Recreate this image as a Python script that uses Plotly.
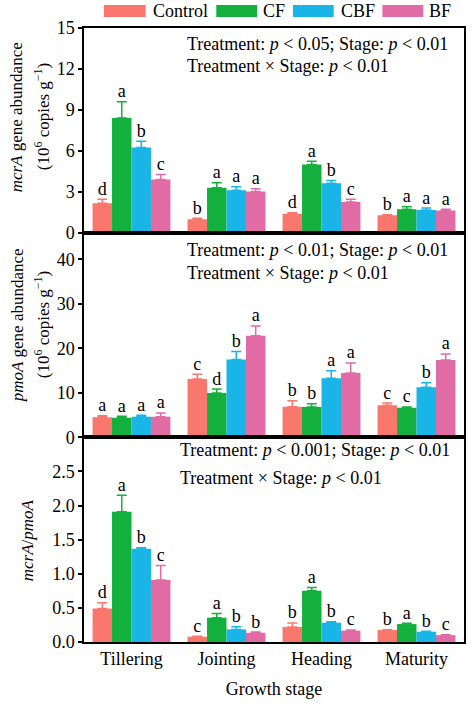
import plotly.graph_objects as go
from plotly.subplots import make_subplots

stages = ["Tillering", "Jointing", "Heading", "Maturity"]
treatments = ["Control", "CF", "CBF", "BF"]
colors = ["#FA776E", "#14B03E", "#18B5E6", "#E06BA5"]

# mcrA gene abundance (10^6 copies g-1), one row per treatment
mcra_mean = [[2.15, 0.98, 1.39, 1.27],
             [8.41, 3.29, 5.00, 1.71],
             [6.24, 3.10, 3.63, 1.66],
             [3.90, 3.02, 2.24, 1.63]]
mcra_err = [[0.30, 0.07, 0.07, 0.05],
            [1.18, 0.37, 0.24, 0.19],
            [0.46, 0.27, 0.20, 0.14],
            [0.37, 0.20, 0.20, 0.08]]
mcra_letters = [["d", "b", "d", "b"],
                ["a", "a", "a", "a"],
                ["b", "a", "b", "a"],
                ["c", "a", "c", "a"]]

# pmoA gene abundance (10^6 copies g-1)
pmoa_mean = [[4.49, 13.10, 6.89, 7.19],
             [4.42, 9.96, 6.82, 6.67],
             [4.64, 17.50, 13.26, 11.24],
             [4.64, 22.85, 14.46, 17.38]]
pmoa_err = [[0.38, 1.10, 1.35, 0.50],
            [0.30, 0.90, 0.75, 0.15],
            [0.30, 1.80, 1.70, 1.05],
            [0.83, 2.20, 2.25, 1.35]]
pmoa_letters = [["a", "c", "b", "c"],
                ["a", "d", "b", "c"],
                ["a", "b", "a", "b"],
                ["a", "a", "a", "a"]]

# mcrA/pmoA ratio
ratio_mean = [[0.49, 0.078, 0.22, 0.175],
              [1.91, 0.356, 0.75, 0.263],
              [1.365, 0.185, 0.283, 0.151],
              [0.91, 0.136, 0.166, 0.100]]
ratio_err = [[0.085, 0.005, 0.06, 0.005],
             [0.24, 0.06, 0.05, 0.01],
             [0.015, 0.04, 0.015, 0.005],
             [0.21, 0.01, 0.01, 0.005]]
ratio_letters = [["d", "c", "b", "b"],
                 ["a", "a", "a", "a"],
                 ["b", "b", "b", "b"],
                 ["c", "b", "c", "c"]]

panels = [
    (mcra_mean, mcra_err, mcra_letters, [0, 15], [0, 3, 6, 9, 12, 15], None),
    (pmoa_mean, pmoa_err, pmoa_letters, [0, 46], [0, 10, 20, 30, 40], None),
    (ratio_mean, ratio_err, ratio_letters, [0, 3], [0, 0.5, 1.0, 1.5, 2.0, 2.5], ".1f"),
]
stats_text = [
    ("Treatment: <i>p</i> < 0.05; Stage: <i>p</i> < 0.01", "Treatment × Stage: <i>p</i> < 0.01"),
    ("Treatment: <i>p</i> < 0.01; Stage: <i>p</i> < 0.01", "Treatment × Stage: <i>p</i> < 0.01"),
    ("Treatment: <i>p</i> < 0.001; Stage: <i>p</i> < 0.01", "Treatment × Stage: <i>p</i> < 0.01"),
]

FONT = "Liberation Serif"
BARGAP = 0.18
W, H = 474, 706
ML, MR, MT, MB = 84, 8, 28, 64
bar_w = (1 - BARGAP) / len(treatments)
x_idx = list(range(len(stages)))


def px_x(p):
    return (p - ML) / (W - ML - MR)


def px_y(p):
    return (H - MB - p) / (H - MT - MB)


fig = make_subplots(rows=3, cols=1, shared_xaxes=True, vertical_spacing=0)

for r, (mean, err, letters, yr, tv, tf) in enumerate(panels, start=1):
    for j, name in enumerate(treatments):
        fig.add_trace(go.Bar(
            x=x_idx, y=mean[j], name=name,
            marker=dict(color=colors[j], line=dict(width=0)),
            error_y=dict(type="data", symmetric=False, array=err[j],
                         arrayminus=[0] * len(stages), color=colors[j],
                         thickness=1.5, width=5),
            showlegend=False,
        ), row=r, col=1)
        # significance letters above error bars
        fig.add_trace(go.Scatter(
            x=[i + (j - 1.5) * bar_w for i in x_idx],
            y=[m + e for m, e in zip(mean[j], err[j])],
            mode="text", text=letters[j], textposition="top center",
            textfont=dict(family=FONT, size=18, color="black"),
            showlegend=False, hoverinfo="skip",
        ), row=r, col=1)
    fig.update_yaxes(range=yr, tickvals=tv, tickformat=tf, row=r, col=1)

fig.update_layout(barmode="group", bargap=BARGAP)

fig.update_xaxes(range=[-0.5, 3.5], tickvals=x_idx, ticktext=stages,
                 showline=True, linecolor="black", linewidth=1.5, mirror=True,
                 ticks="", showgrid=False, zeroline=False,
                 tickfont=dict(family=FONT, size=18, color="black"))
fig.update_xaxes(title=dict(text="Growth stage", font=dict(family=FONT, size=18, color="black"),
                            standoff=14), row=3, col=1)
fig.update_yaxes(showline=True, linecolor="black", linewidth=1.5, mirror=True,
                 ticks="outside", ticklen=4, tickwidth=1.5, tickcolor="black",
                 showgrid=False, zeroline=False,
                 tickfont=dict(family=FONT, size=18, color="black"))

# stats text in each panel
stat_pos = [(186, 44, 66), (186, 250, 273), (178, 450, 478)]
for (l1, l2), (xl, y1, y2) in zip(stats_text, stat_pos):
    for txt, yy in ((l1, y1), (l2, y2)):
        fig.add_annotation(text=txt, xref="paper", yref="paper",
                           x=px_x(xl), y=px_y(yy), xanchor="left", yanchor="middle",
                           showarrow=False, font=dict(family=FONT, size=18, color="black"))

# y-axis titles
ytitles = [
    ("<i>mcrA</i> gene abundance", 17, 117),
    ("(10<sup>6</sup> copies g<sup>−1</sup>)", 42, 117),
    ("<i>pmoA</i> gene abundance", 17, 325),
    ("(10<sup>6</sup> copies g<sup>−1</sup>)", 42, 325),
    ("<i>mcrA</i>/<i>pmoA</i>", 27, 540),
]
for txt, xx, yy in ytitles:
    fig.add_annotation(text=txt, xref="paper", yref="paper",
                       x=px_x(xx), y=px_y(yy), xanchor="center", yanchor="middle",
                       textangle=-90, showarrow=False,
                       font=dict(family=FONT, size=17, color="black"))

# legend drawn as wide swatches
legend_px = [(104, 146, 151), (217, 258, 262), (294, 335, 340), (384, 425, 429)]
for name, c, (x0, x1, xt) in zip(treatments, colors, legend_px):
    fig.add_shape(type="rect", xref="paper", yref="paper",
                  x0=px_x(x0), x1=px_x(x1), y0=px_y(17), y1=px_y(5),
                  fillcolor=c, line=dict(width=0))
    fig.add_annotation(text=name, xref="paper", yref="paper",
                       x=px_x(xt), y=px_y(11), xanchor="left", yanchor="middle",
                       showarrow=False, font=dict(family=FONT, size=18, color="black"))

fig.update_layout(
    width=W, height=H,
    margin=dict(l=ML, r=MR, t=MT, b=MB),
    plot_bgcolor="white", paper_bgcolor="white",
    font=dict(family=FONT, color="black"),
    showlegend=False,
)

# drop the default page margin so the figure sits at the window corner
fig.write_html("out.html", config={"displayModeBar": False},
               post_script="document.body.style.margin='0';")
